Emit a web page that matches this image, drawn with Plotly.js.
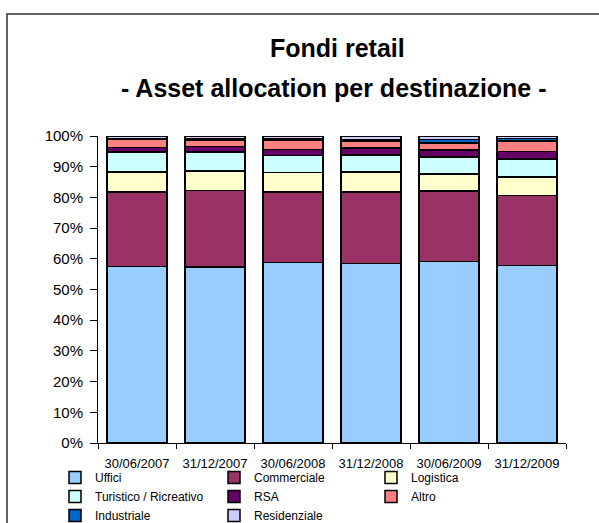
<!DOCTYPE html>
<html>
<head>
<meta charset="utf-8">
<script src="https://cdn.plot.ly/plotly-3.0.1.min.js"></script>
<style>html,body{margin:0;padding:0;background:#fff;}#chart{width:599px;height:523px;}</style>
</head>
<body>
<div id="chart"></div>
<script>
const categories = ["30/06/2007","31/12/2007","30/06/2008","31/12/2008","30/06/2009","31/12/2009"];
const uffici       = [57.5, 56.8, 58.5, 58.1, 58.6, 57.7];
const commerciale  = [24.3, 24.7, 23.0, 23.2, 22.7, 22.8];
const logistica    = [6.5, 6.3, 6.2, 6.5, 5.6, 6.1];
const turistico    = [6.5, 6.2, 5.5, 5.6, 5.4, 5.8];
const rsa          = [1.5, 1.7, 2.0, 2.2, 2.3, 2.4];
const altro        = [2.5, 2.1, 3.1, 2.2, 2.2, 3.5];
const industriale  = [0.3, 0.3, 0.3, 0.4, 1.1, 0.8];
const residenziale = [0.9, 1.0, 1.0, 1.3, 1.2, 0.8];
const yTicks = [0,10,20,30,40,50,60,70,80,90,100];
const yTickLabels = ["0%","10%","20%","30%","40%","50%","60%","70%","80%","90%","100%"];

const W = 599, H = 523;
const L = 98, R = 33, T = 136, B = 80;
const pw = W - L - R, ph = H - T - B;
const px = x => (x - L) / pw;
const py = y => (H - B - y) / ph;

function tr(name, vals, color, legend) {
  return {
    type: 'bar', name: name, x: categories, y: vals,
    marker: {color: color, line: {color: '#000', width: 1.5}},
    legend: legend, hoverinfo: 'x+y+name'
  };
}
const data = [
  tr('Uffici', uffici, '#99CCFF', 'legend'),
  tr('Commerciale', commerciale, '#993366', 'legend2'),
  tr('Logistica', logistica, '#FFFFCC', 'legend3'),
  tr('Turistico / Ricreativo', turistico, '#CCFFFF', 'legend'),
  tr('RSA', rsa, '#660066', 'legend2'),
  tr('Altro', altro, '#FF8080', 'legend3'),
  tr('Industriale', industriale, '#0066CC', 'legend'),
  tr('Residenziale', residenziale, '#CCCCFF', 'legend2')
];
const legFont = {family: 'Liberation Sans, Arial, sans-serif', size: 12, color: '#000'};
function leg(left) {
  return {x: px(left), y: py(463), xanchor: 'left', yanchor: 'top', orientation: 'v',
          traceorder: 'normal', bgcolor: 'rgba(0,0,0,0)', font: legFont, tracegroupgap: 0};
}
const layout = {
  width: W, height: H,
  margin: {l: L, r: R, t: T, b: B, pad: 0, autoexpand: false},
  paper_bgcolor: '#fff', plot_bgcolor: '#fff',
  barmode: 'stack', barnorm: 'percent', bargap: 0.23,
  font: {family: 'Liberation Sans, Arial, sans-serif', color: '#000'},
  showlegend: true,
  legend: leg(55), legend2: leg(214), legend3: leg(371),
  xaxis: {
    type: 'category', showline: true, linecolor: '#000', linewidth: 1,
    ticks: 'outside', ticklen: 5, tickcolor: '#000', tickson: 'boundaries',
    ticklabelstandoff: 8,
    tickfont: {size: 13, family: 'Liberation Sans, Arial, sans-serif'},
    showgrid: false, zeroline: false, fixedrange: true, automargin: false
  },
  yaxis: {
    range: [0, 100], tickvals: yTicks, ticktext: yTickLabels,
    showline: true, linecolor: '#000', linewidth: 1,
    ticks: 'outside', ticklen: 7, tickcolor: '#000',
    ticklabelstandoff: 4,
    tickfont: {size: 15, family: 'Liberation Sans, Arial, sans-serif'},
    showgrid: false, zeroline: false, fixedrange: true, automargin: false
  },
  annotations: [
    {text: '<b>Fondi retail</b>', xref: 'paper', yref: 'paper', x: px(337), y: py(48),
     xanchor: 'center', yanchor: 'middle', showarrow: false,
     font: {size: 25, family: 'Liberation Sans, Arial, sans-serif', color: '#000'}},
    {text: '<b>- Asset allocation per destinazione -</b>', xref: 'paper', yref: 'paper', x: px(334), y: py(88),
     xanchor: 'center', yanchor: 'middle', showarrow: false,
     font: {size: 25, family: 'Liberation Sans, Arial, sans-serif', color: '#000'}}
  ],
  shapes: [
    {type: 'rect', xref: 'paper', yref: 'paper', x0: px(7), x1: px(640), y0: py(560), y1: py(14),
     line: {color: '#333', width: 1.5}, fillcolor: 'rgba(0,0,0,0)', layer: 'below'}
  ]
};
Plotly.newPlot('chart', data, layout, {displayModeBar: false, staticPlot: true});
</script>
</body>
</html>
